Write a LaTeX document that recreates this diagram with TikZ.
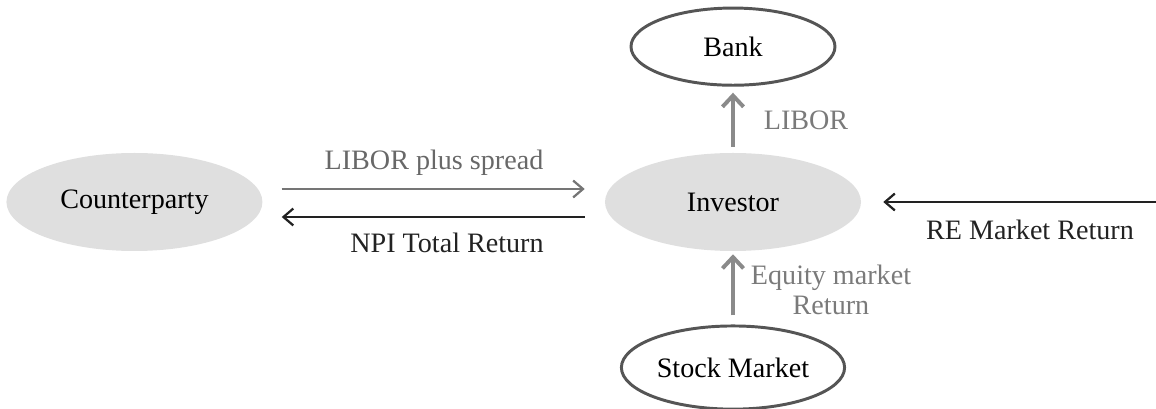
\documentclass[tikz,border=0pt]{standalone}
\usepackage{fontspec}
\setmainfont{Liberation Serif}
\usepackage{tikz}
\usetikzlibrary{positioning,arrows.meta,shapes.geometric}
\definecolor{fillgray}{HTML}{DFDFDF}
\definecolor{edgegray}{HTML}{555555}
\definecolor{arrowgray}{HTML}{8A8A8A}
\definecolor{textgray}{HTML}{7A7A7A}
\definecolor{darkline}{HTML}{222222}

\begin{document}
\begin{tikzpicture}[
  font=\fontsize{20}{21.5}\selectfont,
  party/.style={ellipse, fill=fillgray, inner sep=0pt, minimum width=6.4cm, minimum height=2.45cm},
  market/.style={ellipse, draw=edgegray, line width=2.1pt, inner sep=0pt},
  flow/.style={-{Straight Barb[length=7pt,width=12pt]}, line width=1.6pt},
  upflow/.style={-{Straight Barb[length=8pt,width=15pt]}, line width=2.8pt, draw=arrowgray},
  lbl/.style={text=darkline, inner sep=0pt},
  greylbl/.style={text=textgray, inner sep=0pt, align=center}
]
\useasboundingbox (-18.325,-5.175) rectangle (10.575,5.05);
\node[party] (inv) at (0,0) {Investor};
\node[party, left=8.55cm of inv] (cp) {Counterparty};
\node[market, minimum width=5.1cm, minimum height=1.93cm, above=1.65cm of inv] (bank) {Bank};
\node[market, minimum width=5.58cm, minimum height=2.08cm, below=1.83cm of inv] (stock) {Stock Market};
\coordinate (re) at (10.575,0);

% swap legs
\draw[flow, draw=arrowgray!85!black] ([shift={(0.475cm,0.325cm)}]cp.east) -- ([shift={(-0.5cm,0.325cm)}]inv.west);
\draw[flow, draw=darkline] ([shift={(-0.5cm,-0.375cm)}]inv.west) -- ([shift={(0.475cm,-0.375cm)}]cp.east);
\draw[flow, draw=darkline] (re) -- ([xshift=0.55cm]inv.east);
\draw[upflow, shorten <=0.15cm, shorten >=0.15cm] (inv) -- (bank);
\draw[upflow, shorten <=0.225cm, shorten >=0.075cm] (stock) -- (inv);

% labels
\node[lbl, text=textgray!85!black] (spreadlbl) at (-7.475,0.975) {LIBOR plus spread};
\node[lbl] (npilbl) at (-7.15,-1.025) {NPI Total Return};
\node[lbl] (relbl) at (7.425,-0.7) {RE Market Return};
\node[greylbl] (liborlbl) at (1.825,2.05) {LIBOR};
\node[greylbl] (equitylbl) at (2.45,-2.2) {Equity market\\Return};
\end{tikzpicture}
\end{document}
